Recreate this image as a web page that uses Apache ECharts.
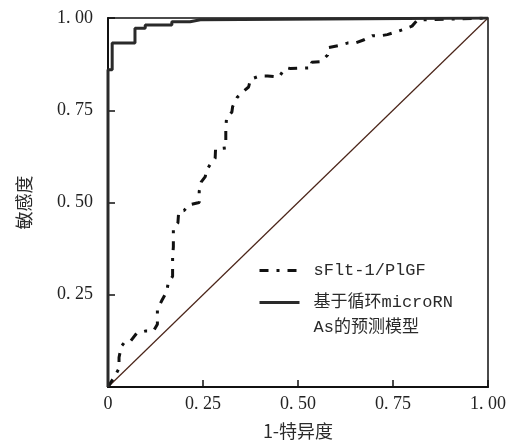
<!DOCTYPE html>
<html>
<head>
<meta charset="utf-8">
<script src="https://cdn.jsdelivr.net/npm/echarts@6/dist/echarts.min.js"></script>
<style>
html,body{margin:0;padding:0;background:#fff;}
#chart{width:510px;height:445px;}
</style>
</head>
<body>
<div id="chart"></div>
<script>
// ---- data ----
var xTickLabels = ['0', '0. 25', '0. 50', '0. 75', '1. 00'];
var yTickLabels = ['', '0. 25', '0. 50', '0. 75', '1. 00'];
var tickValues = [0, 0.25, 0.5, 0.75, 1];

var seriesNames = ['sFlt-1/PlGF', '基于循环microRNAs的预测模型'];

var sfltFpr = [0, 0.018, 0.029, 0.029, 0.035, 0.045, 0.06, 0.075, 0.10, 0.12, 0.13, 0.13, 0.142, 0.155, 0.158, 0.17, 0.17, 0.172, 0.172, 0.184, 0.186, 0.20, 0.212, 0.24, 0.24, 0.245, 0.256, 0.258, 0.27, 0.282, 0.283, 0.31, 0.31, 0.312, 0.326, 0.328, 0.34, 0.355, 0.37, 0.375, 0.40, 0.42, 0.45, 0.46, 0.47, 0.48, 0.507, 0.536, 0.536, 0.562, 0.578, 0.58, 0.605, 0.63, 0.65, 0.674, 0.696, 0.718, 0.735, 0.76, 0.78, 0.80, 0.815, 0.90, 1];
var sfltTpr = [0, 0.03, 0.05, 0.08, 0.11, 0.123, 0.125, 0.145, 0.152, 0.152, 0.17, 0.21, 0.235, 0.26, 0.28, 0.30, 0.35, 0.38, 0.43, 0.445, 0.475, 0.478, 0.493, 0.50, 0.53, 0.555, 0.57, 0.585, 0.605, 0.62, 0.645, 0.648, 0.70, 0.73, 0.745, 0.76, 0.785, 0.80, 0.813, 0.834, 0.843, 0.843, 0.84, 0.855, 0.865, 0.863, 0.864, 0.865, 0.88, 0.882, 0.90, 0.92, 0.925, 0.932, 0.932, 0.941, 0.952, 0.952, 0.955, 0.963, 0.97, 0.978, 0.995, 0.997, 1];

var modelFpr = [0, 0, 0.011, 0.011, 0.071, 0.071, 0.098, 0.098, 0.168, 0.168, 0.216, 0.216, 0.243, 0.243, 1];
var modelTpr = [0, 0.86, 0.86, 0.932, 0.932, 0.972, 0.972, 0.981, 0.981, 0.99, 0.99, 0.995, 0.995, 1, 1];

var refFpr = [0, 1];
var refTpr = [0, 1];

function zip(a, b) { return a.map(function (v, i) { return [v, b[i]]; }); }
function lookup(labels) {
  return function (v) {
    for (var i = 0; i < tickValues.length; i++) {
      if (Math.abs(tickValues[i] - v) < 1e-9) return labels[i];
    }
    return '';
  };
}

var numFont = '"Liberation Serif", "DejaVu Serif", serif';
var cjkFont = '"Noto Sans CJK SC", sans-serif';
var legFont = '"Liberation Mono", "Noto Sans CJK SC", monospace';

var legRich = {
  a: { fontFamily: legFont, fontSize: 17, color: '#2a2a2a', lineHeight: 25, padding: [0, 0, 0, 9] },
  s: { fontFamily: legFont, fontSize: 17, color: '#2a2a2a', lineHeight: 25 }
};
var legItemStyle = { color: 'rgba(0,0,0,0)', borderWidth: 0, opacity: 0 };

var chart = echarts.init(document.getElementById('chart'));
chart.setOption({
  backgroundColor: '#ffffff',
  animation: false,
  grid: { left: 108, right: 22, top: 18, bottom: 53, show: true, borderColor: '#111', borderWidth: 1.5, backgroundColor: 'transparent' },
  xAxis: {
    type: 'value', min: 0, max: 1, interval: 0.25,
    name: '1-特异度', nameLocation: 'middle', nameGap: 35,
    nameTextStyle: { fontFamily: cjkFont, fontSize: 18, color: '#2a2a2a' },
    axisLine: { show: true, lineStyle: { color: '#111', width: 2 } },
    axisTick: { show: true, inside: true, length: 7, lineStyle: { color: '#111', width: 1.5 } },
    axisLabel: { formatter: lookup(xTickLabels), fontFamily: numFont, fontSize: 18, color: '#222', margin: 8 },
    splitLine: { show: false }
  },
  yAxis: {
    type: 'value', min: 0, max: 1, interval: 0.25,
    name: '敏感度', nameLocation: 'middle', nameGap: 75, nameRotate: 90,
    nameTextStyle: { fontFamily: cjkFont, fontSize: 18, color: '#2a2a2a' },
    axisLine: { show: true, lineStyle: { color: '#111', width: 2 } },
    axisTick: { show: true, inside: true, length: 7, lineStyle: { color: '#111', width: 1.5 } },
    axisLabel: { formatter: lookup(yTickLabels), fontFamily: numFont, fontSize: 18, color: '#222', margin: 15 },
    splitLine: { show: false }
  },
  legend: [
    {
      orient: 'vertical', left: 258, top: 262, padding: 0,
      itemWidth: 40, itemHeight: 14, itemGap: 0,
      data: [seriesNames[0]],
      lineStyle: { width: 3 },
      itemStyle: legItemStyle,
      formatter: function (n) { return '{a|' + n + '}'; },
      textStyle: { rich: legRich }
    },
    {
      orient: 'vertical', left: 258, top: 269, padding: 0,
      itemWidth: 40, itemHeight: 14, itemGap: 0,
      data: [seriesNames[1]],
      lineStyle: { width: 3 },
      itemStyle: legItemStyle,
      formatter: function (n) { return '{s| }\n{a|' + n.slice(0, 11) + '}\n{a|' + n.slice(11) + '}'; },
      textStyle: { rich: legRich }
    }
  ],
  series: [
    {
      name: seriesNames[0], type: 'line', symbol: 'none', z: 3,
      data: zip(sfltFpr, sfltTpr),
      lineStyle: { color: '#111', width: 3, type: [9, 8, 3, 8], cap: 'butt' },
      itemStyle: { color: '#111' }
    },
    {
      name: seriesNames[1], type: 'line', symbol: 'none', z: 4,
      data: zip(modelFpr, modelTpr),
      lineStyle: { color: '#2a2a2a', width: 3 },
      itemStyle: { color: '#2a2a2a' }
    },
    {
      name: 'reference', type: 'line', symbol: 'none', z: 2,
      data: zip(refFpr, refTpr),
      lineStyle: { color: '#4a2418', width: 1.2 },
      silent: true
    }
  ]
});
</script>
</body>
</html>
